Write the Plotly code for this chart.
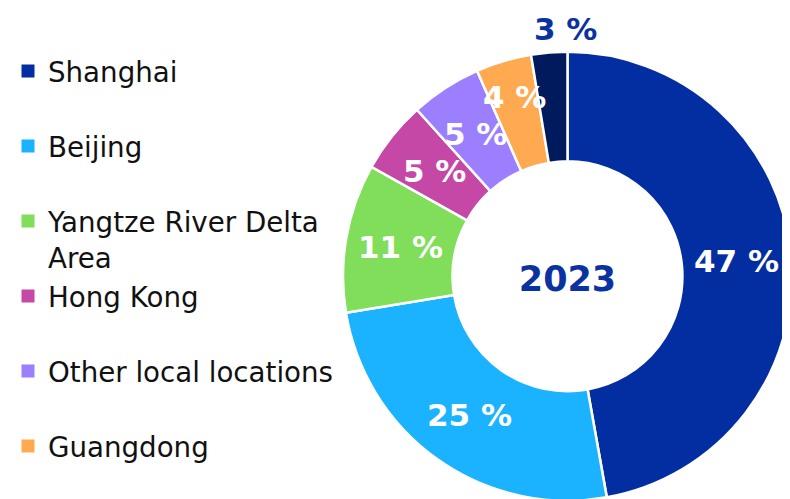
import math
import plotly.graph_objects as go

# ---- data ----
labels = ["Shanghai", "Beijing", "Yangtze River Delta Area", "Hong Kong",
          "Other local locations", "Guangdong", "Others"]
values = [47.2, 25.2, 10.7, 5.2, 5.1, 4.0, 2.6]
legend_labels = ["Shanghai", "Beijing", "Yangtze River Delta<br>Area", "Hong Kong",
                 "Other local locations", "Guangdong"]
colors = ["#032EA1", "#1BB3FF", "#80DE5A", "#C547A6", "#9B7FFF", "#FFAA50", "#001A5E"]
center_text = "2023"

# ---- geometry / style (figure pixel coordinates) ----
W, H = 790, 499
R = 224.5          # outer radius px
CX, CY = 559.5, 268.3  # pie centre px (from top-left of the figure)
HOLE = 0.512
NAVY = "#0A32A0"
mid_ring = (HOLE * R + R) / 2
label_r = [mid_ring] * 5 + [187, 248]
label_outside = [False] * 6 + [True]
label_xshift = [0] * 6 + [18]

fig = go.Figure()
fig.add_trace(go.Pie(
    labels=labels, values=values, sort=False, direction="clockwise", rotation=0,
    hole=HOLE, textinfo="none", showlegend=False, hoverinfo="label+value",
    marker=dict(colors=colors, line=dict(color="white", width=2.5)),
    domain=dict(x=[(CX - R) / W, (CX + R) / W], y=[(H - CY - R) / H, (H - CY + R) / H]),
    title=dict(text=center_text, position="middle center",
               font=dict(family="DejaVu Sans", size=35, color=NAVY, weight="bold")),
))

# legend entries (first six categories); each entry occupies two text lines
n_leg = len(legend_labels)
for i, (name, col) in enumerate(zip(legend_labels, colors)):
    disp = name if ("<br>" in name or i == n_leg - 1) else name + "<br>\u00a0"
    fig.add_trace(go.Scatter(x=[None], y=[None], mode="markers", name=disp,
                             marker=dict(symbol="square", size=13, color=col)))

# percentage labels computed from the values
total = sum(values)
cum = 0.0
annotations = []
for v, r, out, xs in zip(values, label_r, label_outside, label_xshift):
    theta = 2 * math.pi * (cum + v / 2) / total
    cum += v
    px = CX + r * math.sin(theta)
    py = CY - r * math.cos(theta)
    annotations.append(dict(
        x=px / W, y=1 - py / H, xref="paper", yref="paper", showarrow=False,
        xanchor="center", yanchor="middle",
        text=f"{v:.0f} %", xshift=xs,
        font=dict(family="DejaVu Sans", size=31, weight="bold",
                  color=NAVY if out else "white"),
    ))

fig.update_layout(
    width=W, height=H, margin=dict(l=0, r=0, t=0, b=0),
    paper_bgcolor="white", plot_bgcolor="white",
    xaxis=dict(visible=False), yaxis=dict(visible=False),
    showlegend=True,
    legend=dict(x=0, y=0.923, xanchor="left", yanchor="top", valign="top",
                font=dict(family="DejaVu Sans", size=27.7, color="#111111"),
                bgcolor="rgba(0,0,0,0)"),
    annotations=annotations,
)

fig.write_html("out.html")
